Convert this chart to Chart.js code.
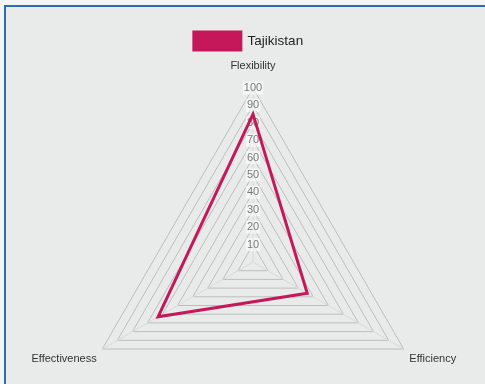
<!DOCTYPE html>
<html>
<head>
<meta charset="utf-8">
<script src="https://cdn.jsdelivr.net/npm/chart.js@4"></script>
<style>
    html, body { margin: 0; padding: 0; background: #f4f5f5; overflow: hidden; }
    #marco {
        position: absolute; left: 4px; top: 5px;
        width: 640px; height: 520px;
        border-left: 2px solid #2f6db3; border-top: 2px solid #2f6db3;
        background: #e9ebea;
    }
    #lienzo { position: absolute; left: 0; top: 0; }
</style>
</head>
<body>
<div id="marco"></div>
<canvas id="lienzo" width="485" height="384"></canvas>
<script>
// Datos del gráfico
const categorias = ['Flexibility', 'Efficiency', 'Effectiveness'];
const serieNombre = 'Tajikistan';
const serieValores = [85, 36, 63];
const ticksEscala = [0, 10, 20, 30, 40, 50, 60, 70, 80, 90, 100];

const colorSerie = '#c4185a';

// centro y radio del radar, como en la imagen original
const centroX = 253;
const centroY = 262;
const radio = 174;

const ctx = document.getElementById('lienzo');
new Chart(ctx, {
    type: 'radar',
    data: {
        labels: categorias,
        datasets: [{
            label: serieNombre,
            data: serieValores,
            borderColor: colorSerie,
            backgroundColor: colorSerie,
            borderWidth: 3,
            fill: false,
            pointRadius: 0,
            pointHoverRadius: 0
        }]
    },
    options: {
        responsive: false,
        animation: false,
        layout: { padding: { top: 22, left: 12 } },
        plugins: {
            legend: {
                position: 'top',
                labels: {
                    boxWidth: 47,
                    boxHeight: 18,
                    color: '#222',
                    font: { family: 'Liberation Sans', size: 13.5 }
                }
            },
            tooltip: { enabled: false }
        },
        scales: {
            r: {
                min: 0,
                max: 100,
                afterBuildTicks: (escala) => {
                    escala.ticks = ticksEscala.map(v => ({ value: v }));
                },
                afterSetDimensions: (escala) => {
                    // dejar sitio para las etiquetas sin encoger el radar
                    escala.top = 0;
                    escala.left = 0;
                    escala.right = 485;
                    escala.bottom = 384;
                    escala.xCenter = centroX;
                    escala.yCenter = centroY;
                    escala.drawingArea = radio;
                },
                grid: { color: '#bcbebe', lineWidth: 1 },
                angleLines: { color: '#d8dada', lineWidth: 1 },
                ticks: {
                    color: '#777',
                    font: { family: 'Liberation Sans', size: 11 },
                    backdropColor: 'rgba(255,255,255,0.55)',
                    backdropPadding: 1
                },
                pointLabels: {
                    color: '#333',
                    font: { family: 'Liberation Sans', size: 11 },
                    padding: (c) => c.index === 0 ? 9 : 0
                }
            }
        }
    }
});
</script>
</body>
</html>
